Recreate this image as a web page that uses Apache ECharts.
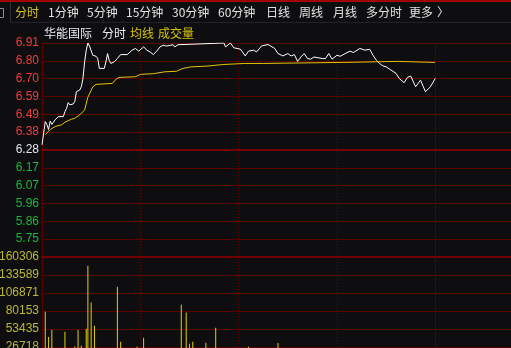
<!DOCTYPE html>
<html><head><meta charset="utf-8">
<script src="https://cdn.jsdelivr.net/npm/echarts@6/dist/echarts.min.js"></script>
<style>html,body{margin:0;padding:0;background:#0e0e11;overflow:hidden}#c{width:511px;height:348px;}</style>
</head><body><div id="c"></div>
<script>
// ---- data ----
const tabs = ['分时','1分钟','5分钟','15分钟','30分钟','60分钟','日线','周线','月线','多分时','更多','〉'];
const legendItems = ['华能国际','分时','均线','成交量'];
const priceTicks = ['6.91','6.80','6.70','6.59','6.49','6.38','6.28','6.17','6.07','5.96','5.86','5.75'];
const volTicks = ['160306','133589','106871','80153','53435','26718'];
const prevClose = 6.28;
const priceMin = 5.652, priceMax = 6.908;
const volMax = 160306;

const priceMinutes = [0,2,3,4,5,6,8,10,13,14,15,16,17,19,20,21,23,24,25,26,27,28,29,31,33,34,35,36,38,39,40,41,42,44,46,48,52,55,57,59,62,64,66,68,70,72,74,76,80,81,83,84,111,112,115,117,119,121,122,124,126,127,129,131,134,138,142,144,147,150,152,154,156,158,160,162,164,166,171,173,175,177,180,182,185,188,190,194,197,200,202,204,206,208,210,213,216,218,221,223,225,228,231,234,237,238,240];
const priceValues = [6.31,6.447,6.43,6.40,6.45,6.43,6.457,6.476,6.476,6.505,6.525,6.558,6.545,6.55,6.564,6.622,6.632,6.651,6.70,6.797,6.866,6.908,6.89,6.836,6.83,6.817,6.759,6.749,6.759,6.797,6.846,6.807,6.788,6.797,6.817,6.84,6.84,6.866,6.876,6.86,6.885,6.866,6.855,6.84,6.86,6.885,6.895,6.89,6.898,6.885,6.898,6.908,6.908,6.885,6.908,6.88,6.876,6.872,6.86,6.832,6.86,6.856,6.866,6.856,6.891,6.899,6.876,6.846,6.832,6.846,6.832,6.84,6.80,6.826,6.846,6.817,6.813,6.826,6.817,6.817,6.846,6.813,6.836,6.83,6.846,6.86,6.852,6.876,6.866,6.871,6.836,6.807,6.788,6.774,6.768,6.749,6.73,6.70,6.675,6.706,6.714,6.651,6.69,6.622,6.651,6.661,6.70];

const avgMinutes = [2,5,8,12,14,18,20,23,26,28,31,33,43,45,47,57,60,68,75,82,86,91,100,111,124,135,136,183,184,217,218,240];
const avgValues = [6.37,6.40,6.418,6.428,6.443,6.461,6.466,6.486,6.515,6.59,6.651,6.665,6.671,6.694,6.706,6.71,6.724,6.728,6.739,6.742,6.759,6.768,6.772,6.782,6.788,6.788,6.794,6.794,6.80,6.80,6.794,6.794];

const volMinutes = [2,4,6,14,20,22,24,27,28,30,32,46,48,58,62,85,88,90,92,100,106,126,144];
const volValues = [79100,41560,52400,49400,27600,52400,28600,53900,147400,92900,58300,116200,34600,27200,40500,89500,78100,31600,34600,33100,55400,27200,32600];

// ---- layout / style ----
const tabX = [15,48,87,126,172,218,266,299,333,366,409,437];
const legendX = [44,102,130,158];
const C = {
  bg:'#0e0e11', grid:'#5a0000', gridStrong:'#720000', dot:'#7a0000',
  red:'#f03c3c', green:'#18b83a', white:'#dde6f0', volLbl:'#bdb832',
  line:'#ffffff', avg:'#e6c400', bar:'#e2d000', tab:'#e2e2e2', tabOn:'#d4c12a'
};
const step = (priceMax - priceMin) / 12;
const volStep = volMax / 6;
const xMax = 286.2;
const font = 'Liberation Sans, Arial, sans-serif';
const cjk = 'Noto Sans CJK SC, sans-serif';

const pricePairs = priceMinutes.map((m,i)=>[m, priceValues[i]]);
const avgPairs = avgMinutes.map((m,i)=>[m, avgValues[i]]);
const volPairs = volMinutes.map((m,i)=>[m, volValues[i]]);

const vLines = [60,120,180].map(v=>({xAxis:v, lineStyle:{type:[1,2], color:C.dot, width:1}}))
  .concat([{xAxis:240, lineStyle:{type:'solid', color:C.grid, width:1}}]);

const graphic = [
  {type:'rect', shape:{x:0,y:0,width:511,height:2}, style:{fill:'#a00000'}},
  {type:'rect', shape:{x:-4.5,y:8.5,width:8,height:9}, style:{fill:'none', stroke:'#8a8a8a', lineWidth:1}},
  {type:'line', shape:{x1:10.5,y1:2,x2:10.5,y2:22}, style:{stroke:'#303034', lineWidth:1}},
  {type:'line', shape:{x1:10,y1:22.5,x2:511,y2:22.5}, style:{stroke:'#222226', lineWidth:1}}
];
tabs.forEach((t,i)=>{
  graphic.push({type:'text', x:tabX[i], y:12, style:{text:t, fill: i===0?C.tabOn:C.tab, font:'12px '+cjk, textVerticalAlign:'middle'}});
});
legendItems.forEach((t,i)=>{
  graphic.push({type:'text', x:legendX[i], y:33, style:{text:t, fill: i<2?'#e8ecf4':'#d8c200', font:'12px '+cjk, textVerticalAlign:'middle'}});
});

const chart = echarts.init(document.getElementById('c'), null, {renderer:'canvas'});
chart.setOption({
  backgroundColor: C.bg,
  animation:false,
  graphic: graphic,
  grid:[
    {left:42, right:0, top:43, height:214, outerBoundsMode:'none', containLabel:false},
    {left:42, right:0, top:257, height:108, outerBoundsMode:'none', containLabel:false}
  ],
  xAxis:[
    {type:'value', gridIndex:0, min:0, max:xMax, axisLine:{show:true, onZero:false, lineStyle:{color:C.gridStrong, width:2}}, axisTick:{show:false}, axisLabel:{show:false}, splitLine:{show:false}},
    {type:'value', gridIndex:1, min:0, max:xMax, axisLine:{show:false}, axisTick:{show:false}, axisLabel:{show:false}, splitLine:{show:false}}
  ],
  yAxis:[
    {type:'value', gridIndex:0, min:priceMin, max:priceMax, interval:step,
      axisLine:{show:true, lineStyle:{color:C.grid, width:1}}, axisTick:{show:false},
      splitLine:{show:true, lineStyle:{color:C.grid, width:1}},
      axisLabel:{margin:3, fontFamily:font, fontSize:12,
        formatter:function(v){
          const idx = Math.round((v - priceMin)/step);
          if (idx <= 0 || idx > 12) return '';
          const t = priceTicks[12-idx];
          return idx>6 ? '{r|'+t+'}' : (idx===6 ? '{w|'+t+'}' : '{g|'+t+'}');
        },
        rich:{r:{color:C.red, fontFamily:font, fontSize:12}, w:{color:C.white, fontFamily:font, fontSize:12}, g:{color:C.green, fontFamily:font, fontSize:12}}
      }},
    {type:'value', gridIndex:1, min:0, max:volMax, interval:volStep,
      axisLine:{show:true, lineStyle:{color:C.grid, width:1}}, axisTick:{show:false},
      splitLine:{show:true, lineStyle:{color:C.grid, width:1}},
      axisLabel:{margin:3, color:C.volLbl, fontFamily:font, fontSize:12,
        formatter:function(v){
          const idx = Math.round(v/volStep);
          if (idx <= 0 || idx > 6) return '';
          return volTicks[6-idx];
        }}}
  ],
  series:[
    {type:'line', xAxisIndex:0, yAxisIndex:0, data:pricePairs, showSymbol:false, symbol:'none',
      lineStyle:{color:C.line, width:1}, z:5,
      markLine:{silent:true, symbol:'none', label:{show:false},
        data: vLines.concat([{yAxis:prevClose, lineStyle:{type:'solid', color:C.gridStrong, width:2}}])}},
    {type:'line', xAxisIndex:0, yAxisIndex:0, data:avgPairs, showSymbol:false, symbol:'none',
      lineStyle:{color:C.avg, width:1}, z:4},
    {type:'bar', xAxisIndex:1, yAxisIndex:1, data:volPairs, barWidth:1, itemStyle:{color:C.bar},
      markLine:{silent:true, symbol:'none', label:{show:false}, data: vLines}}
  ]
});
</script></body></html>
